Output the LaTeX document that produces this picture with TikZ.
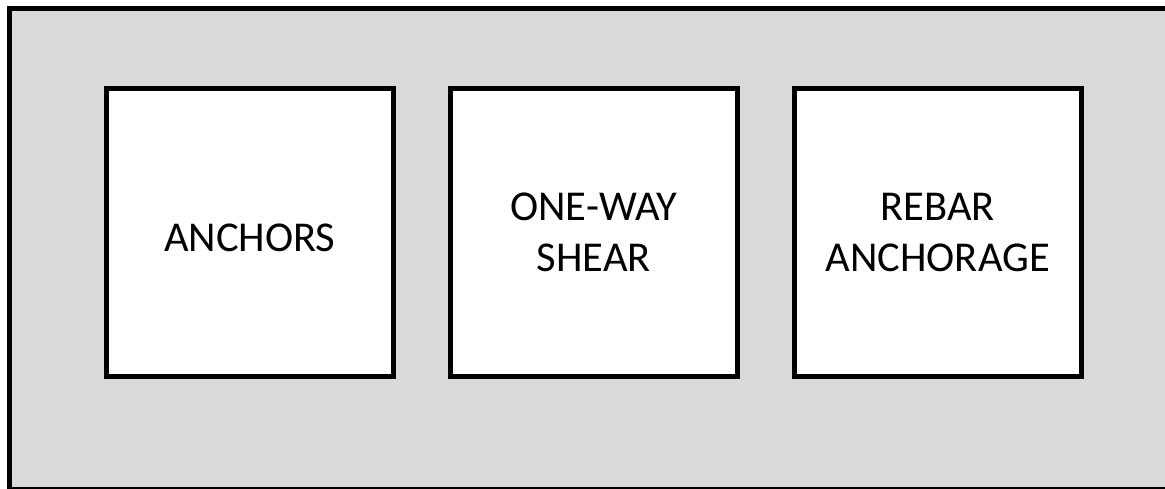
\documentclass[tikz,border=0pt]{standalone}
\usepackage{fontspec}
\setmainfont{Carlito}
\usepackage{xcolor}
\usetikzlibrary{positioning}

\definecolor{panelgray}{HTML}{D9D9D9}

\begin{document}
\begin{tikzpicture}[x=1pt,y=-1pt,
  topic/.style={draw,fill=white,line width=4.5pt,minimum width=287pt,minimum height=288pt,
    outer sep=0pt,align=center,font=\fontsize{42.5}{51}\selectfont}]
  \useasboundingbox (0,0) rectangle (1165,488);
  \clip (0,0) rectangle (1165,488);
  % outer panel, runs off the right and bottom edge
  \draw[fill=panelgray,line width=5pt] (9.5,8) rectangle (1175,489);
  \node[topic,text height=38pt] (anchors) at (249.75,232.5) {ANCHORS};
  \node[topic,right=57pt of anchors] (shear) {ONE-WAY\\SHEAR};
  \node[topic,right=57pt of shear] (rebar) {REBAR\\ANCHORAGE};
\end{tikzpicture}
\end{document}
